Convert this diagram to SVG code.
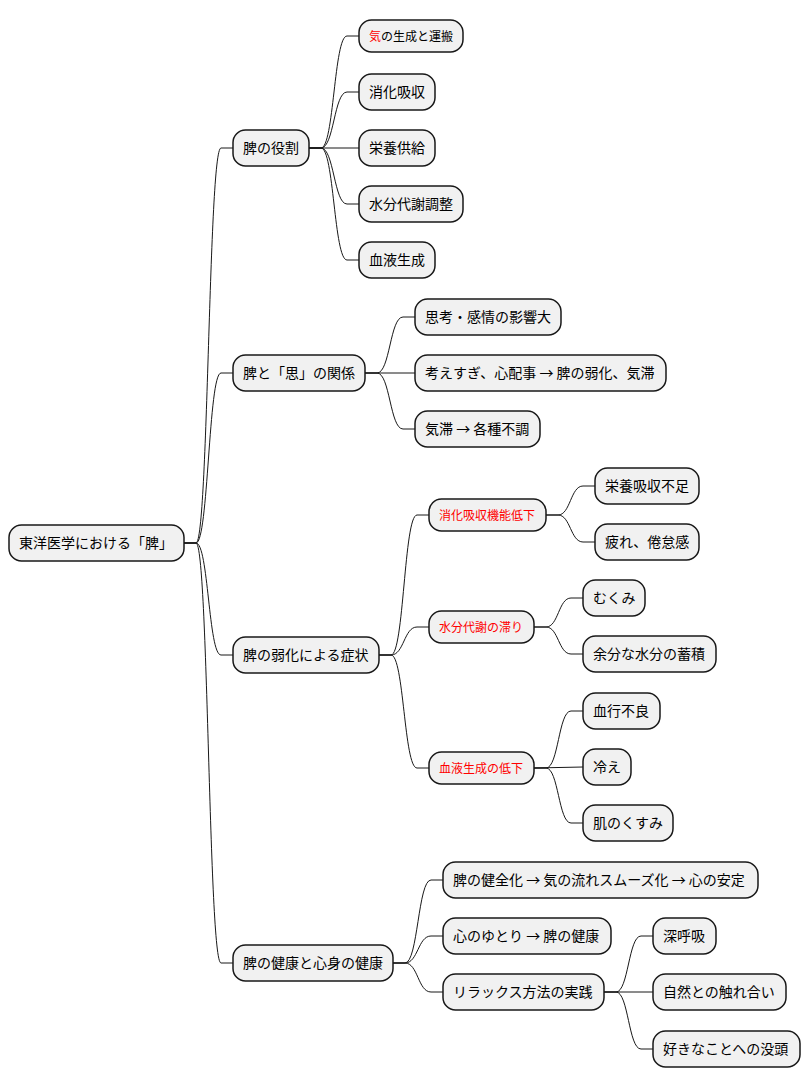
<svg xmlns="http://www.w3.org/2000/svg" width="810" height="1088" viewBox="0 0 810 1088">
<style>
.n{fill:#F1F1F1;stroke:#181818;stroke-width:1.5}
.t{font-family:"Noto Sans CJK JP","Noto Sans",sans-serif;font-size:14px;fill:#000}
.s{font-family:"Noto Sans CJK JP","Noto Sans",sans-serif;font-size:12px;fill:#FF0000}
.k{font-size:12px}
.c path{fill:none;stroke:#181818;stroke-width:1}
</style>
<rect width="810" height="1088" fill="#FFFFFF"/>
<g class="c" id="connectors">
<path d="M184,543 L196,543 C208.5,543 208.5,148 221,148 L233,148"/>
<path d="M184,543 L196,543 C208.5,543 208.5,373 221,373 L233,373"/>
<path d="M184,543 L196,543 C208.5,543 208.5,655 221,655 L233,655"/>
<path d="M184,543 L196,543 C208.5,543 208.5,963 221,963 L233,963"/>
<path d="M309,148 L321,148 C334,148 334,36 347,36 L359,36"/>
<path d="M309,148 L321,148 C334,148 334,92 347,92 L359,92"/>
<path d="M309,148 L359,148"/>
<path d="M309,148 L321,148 C334,148 334,204 347,204 L359,204"/>
<path d="M309,148 L321,148 C334,148 334,260 347,260 L359,260"/>
<path d="M365,373 L377,373 C390,373 390,317 403,317 L415,317"/>
<path d="M365,373 L415,373"/>
<path d="M365,373 L377,373 C390,373 390,429 403,429 L415,429"/>
<path d="M379,655 L391,655 C404,655 404,515 417,515 L429,515"/>
<path d="M379,655 L391,655 C404,655 404,627 417,627 L429,627"/>
<path d="M379,655 L391,655 C404,655 404,768 417,768 L429,768"/>
<path d="M546,515 L558,515 C570.5,515 570.5,486 583,486 L595,486"/>
<path d="M546,515 L558,515 C570.5,515 570.5,542 583,542 L595,542"/>
<path d="M534,627 L546,627 C558.5,627 558.5,598 571,598 L583,598"/>
<path d="M534,627 L546,627 C558.5,627 558.5,654 571,654 L583,654"/>
<path d="M534,768 L546,768 C558.5,768 558.5,711 571,711 L583,711"/>
<path d="M534,768 L583,767"/>
<path d="M534,768 L546,768 C558.5,768 558.5,823 571,823 L583,823"/>
<path d="M393,963 L405,963 C418,963 418,880 431,880 L443,880"/>
<path d="M393,963 L405,963 C418,963 418,936 431,936 L443,936"/>
<path d="M393,963 L405,963 C418,963 418,992 431,992 L443,992"/>
<path d="M604,992 L616,992 C628.5,992 628.5,936 641,936 L653,936"/>
<path d="M604,992 L653,992"/>
<path d="M604,992 L616,992 C628.5,992 628.5,1049 641,1049 L653,1049"/>
</g>
<g id="root"><rect class="n" x="9" y="525" width="175" height="36" rx="12.5"/><text class="t" x="19" y="548">東洋医学における「脾」</text></g>
<g id="n1"><rect class="n" x="233" y="130" width="76" height="36" rx="12.5"/><text class="t" x="243" y="153">脾の役割</text></g>
<g id="n1a"><rect class="n" x="359" y="20" width="104" height="32" rx="12.5"/><text class="t k" x="369" y="40.5"><tspan fill="#FF0000">気</tspan>の生成と運搬</text></g>
<g id="n1b"><rect class="n" x="359" y="74" width="76" height="36" rx="12.5"/><text class="t" x="369" y="97">消化吸収</text></g>
<g id="n1c"><rect class="n" x="359" y="130" width="76" height="36" rx="12.5"/><text class="t" x="369" y="153">栄養供給</text></g>
<g id="n1d"><rect class="n" x="359" y="186" width="104" height="36" rx="12.5"/><text class="t" x="369" y="209">水分代謝調整</text></g>
<g id="n1e"><rect class="n" x="359" y="242" width="76" height="36" rx="12.5"/><text class="t" x="369" y="265">血液生成</text></g>
<g id="n2"><rect class="n" x="233" y="355" width="132" height="36" rx="12.5"/><text class="t" x="243" y="378">脾と「思」の関係</text></g>
<g id="n2a"><rect class="n" x="415" y="299" width="146" height="36" rx="12.5"/><text class="t" x="425" y="322">思考・感情の影響大</text></g>
<g id="n2b"><rect class="n" x="415" y="355" width="251" height="36" rx="12.5"/><text class="t" x="425" y="378">考えすぎ、心配事 → 脾の弱化、気滞</text></g>
<g id="n2c"><rect class="n" x="415" y="411" width="125" height="36" rx="12.5"/><text class="t" x="425" y="434">気滞 → 各種不調</text></g>
<g id="n3"><rect class="n" x="233" y="637" width="146" height="36" rx="12.5"/><text class="t" x="243" y="660">脾の弱化による症状</text></g>
<g id="n3a"><rect class="n" x="429" y="499" width="117" height="32" rx="12.5"/><text class="s" x="439" y="519.5">消化吸収機能低下</text></g>
<g id="n3a1"><rect class="n" x="595" y="468" width="104" height="36" rx="12.5"/><text class="t" x="605" y="491">栄養吸収不足</text></g>
<g id="n3a2"><rect class="n" x="595" y="524" width="104" height="36" rx="12.5"/><text class="t" x="605" y="547">疲れ、倦怠感</text></g>
<g id="n3b"><rect class="n" x="429" y="611" width="105" height="32" rx="12.5"/><text class="s" x="439" y="631.5">水分代謝の滞り</text></g>
<g id="n3b1"><rect class="n" x="583" y="580" width="62" height="36" rx="12.5"/><text class="t" x="593" y="603">むくみ</text></g>
<g id="n3b2"><rect class="n" x="583" y="636" width="133" height="36" rx="12.5"/><text class="t" x="593" y="659">余分な水分の蓄積</text></g>
<g id="n3c"><rect class="n" x="429" y="752" width="105" height="32" rx="12.5"/><text class="s" x="439" y="772.5">血液生成の低下</text></g>
<g id="n3c1"><rect class="n" x="583" y="693" width="77" height="36" rx="12.5"/><text class="t" x="593" y="716">血行不良</text></g>
<g id="n3c2"><rect class="n" x="583" y="749" width="48" height="36" rx="12.5"/><text class="t" x="593" y="772">冷え</text></g>
<g id="n3c3"><rect class="n" x="583" y="805" width="90" height="36" rx="12.5"/><text class="t" x="593" y="828">肌のくすみ</text></g>
<g id="n4"><rect class="n" x="233" y="945" width="160" height="36" rx="12.5"/><text class="t" x="243" y="968">脾の健康と心身の健康</text></g>
<g id="n4a"><rect class="n" x="443" y="862" width="315" height="36" rx="12.5"/><text class="t" x="453" y="885">脾の健全化 → 気の流れスムーズ化 → 心の安定</text></g>
<g id="n4b"><rect class="n" x="443" y="918" width="168" height="36" rx="12.5"/><text class="t" x="453" y="941">心のゆとり → 脾の健康</text></g>
<g id="n4c"><rect class="n" x="443" y="974" width="161" height="36" rx="12.5"/><text class="t" x="453" y="997">リラックス方法の実践</text></g>
<g id="n4c1"><rect class="n" x="653" y="918" width="63" height="36" rx="12.5"/><text class="t" x="663" y="941">深呼吸</text></g>
<g id="n4c2"><rect class="n" x="653" y="974" width="133" height="36" rx="12.5"/><text class="t" x="663" y="997">自然との触れ合い</text></g>
<g id="n4c3"><rect class="n" x="653" y="1031" width="147" height="36" rx="12.5"/><text class="t" x="663" y="1054">好きなことへの没頭</text></g>
</svg>
